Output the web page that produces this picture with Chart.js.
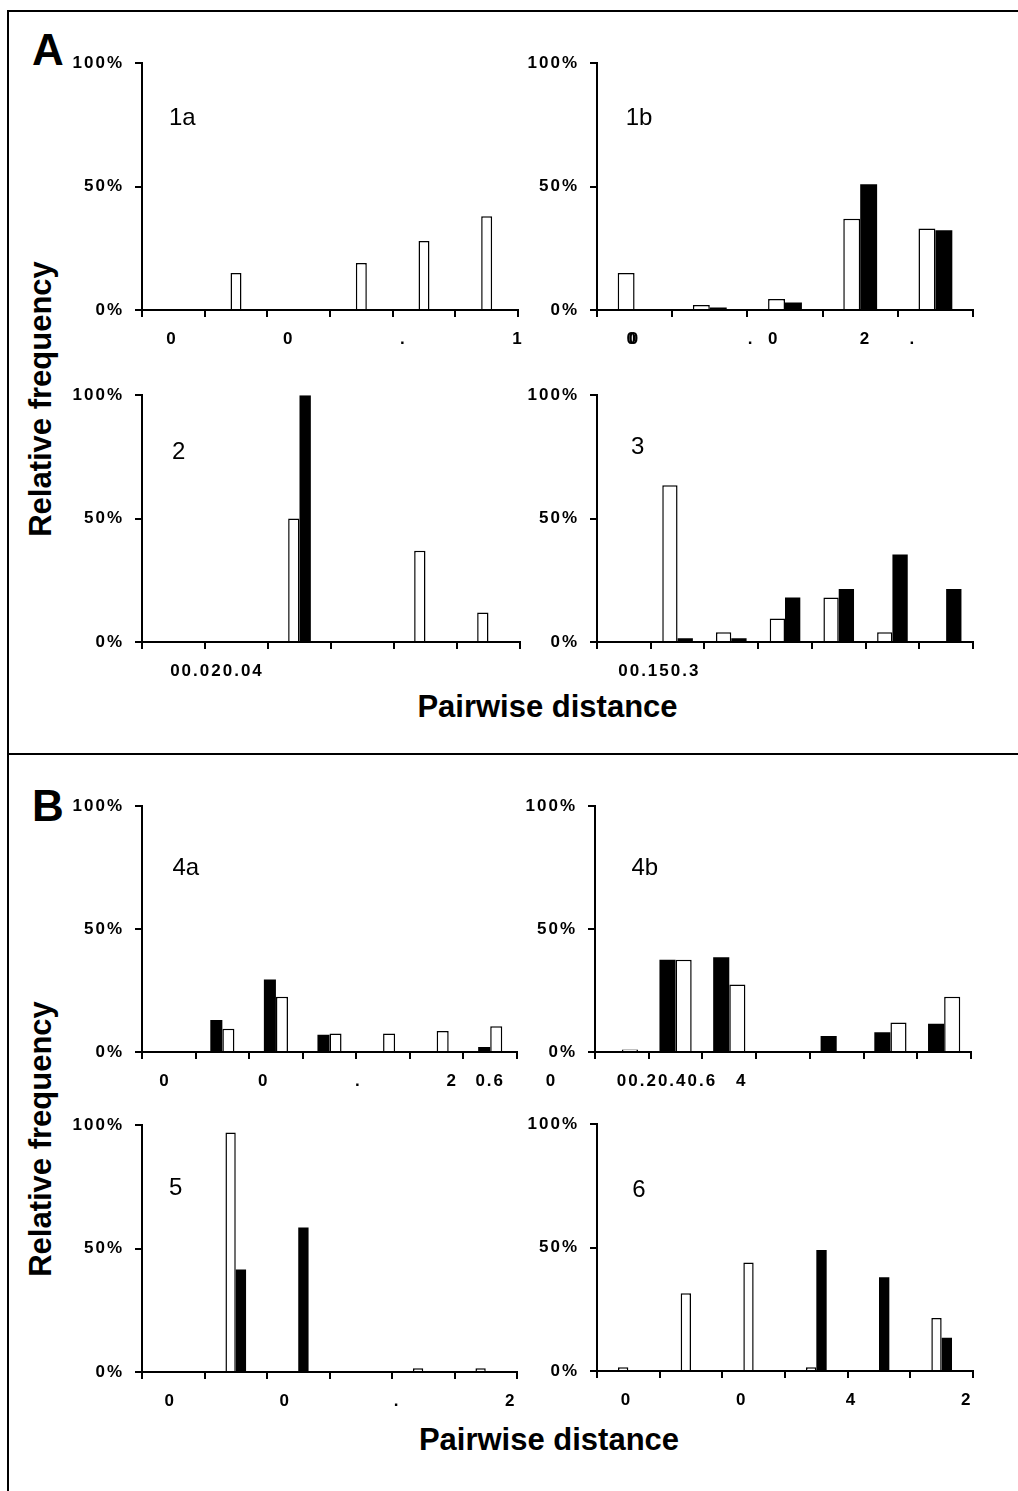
<!DOCTYPE html>
<html>
<head>
<meta charset="utf-8">
<script src="https://cdn.jsdelivr.net/npm/chart.js@4/dist/chart.umd.min.js"></script>
<style>
  html, body { margin: 0; padding: 0; background: #fff; }
  body { width: 1018px; height: 1491px; position: relative; overflow: hidden;
         font-family: "Liberation Sans", Arial, Helvetica, sans-serif; color: #000; }
  .t { position: absolute; white-space: nowrap; line-height: 1; color: #000; }
  .ln { position: absolute; background: #000; }
  canvas { position: absolute; }
</style>
</head>
<body>
<script>
// ---------------- DATA ----------------
const bins5 = ['bin 1', 'bin 2', 'bin 3', 'bin 4', 'bin 5'];
const bins6 = ['bin 1', 'bin 2', 'bin 3', 'bin 4', 'bin 5', 'bin 6'];
const bins7 = ['bin 1', 'bin 2', 'bin 3', 'bin 4', 'bin 5', 'bin 6', 'bin 7'];

// relative frequencies (%) — open bars and filled bars
const white1a = [0, 15, 0, 19, 28, 38];
const white1b = [15, 2, 4.5, 37, 33];
const black1b = [0, 1, 3, 51, 32.3];
const white2  = [0, 0, 50, 0, 37, 12];
const black2  = [0, 0, 100, 0, 0, 0];
const white3  = [0, 63.5, 4, 9.5, 18, 4, 0];
const black3  = [0, 1.5, 1.5, 18, 21.5, 35.5, 21.5];
const black4a = [0, 13, 29.5, 7, 0, 0, 2];
const white4a = [0, 9.5, 22.5, 7.5, 7.5, 8.5, 10.5];
const black4b = [0, 37.5, 38.5, 0, 6.5, 8, 11.5];
const white4b = [1, 37.5, 27.5, 0, 0, 12, 22.5];
const white5  = [0, 97, 0, 0, 1.5, 1.5];
const black5  = [0, 41.5, 58.5, 0, 0, 0];
const white6  = [1.5, 31.5, 44, 1.5, 0, 21.5];
const black6  = [0, 0, 0, 49, 38, 13.5];

// y axis ticks
const yTickValues = [0, 50, 100];

// x tick labels as printed, and their values on the bin scale
const xLab1a = ['0', '0', '.', '1'];
const xVal1a = [0.48, 2.34, 4.17, 6.0];
const xLab1b = ['0', '0', '.', '0', '2', '.'];
const xVal1b = [0.47, 0.50, 2.05, 2.35, 3.57, 4.20];
const xLab2  = ['00.020.04'];
const xVal2  = [1.19];
const xLab3  = ['00.150.3'];
const xVal3  = [1.16];
const xLab4a = ['0', '0', '.', '2', '0.6'];
const xVal4a = [0.43, 2.27, 4.04, 5.79, 6.50];
const xLab4b = ['0', '00.20.40.6', '4'];
const xVal4b = [-0.81, 1.34, 2.73];
const xLab5  = ['0', '0', '.', '2'];
const xVal5  = [0.45, 2.29, 4.08, 5.90];
const xLab6  = ['0', '0', '4', '2'];
const xVal6  = [0.47, 2.31, 4.06, 5.90];

// ---------------- LAYOUT / STYLE ----------------
const FONT = '"Liberation Sans", Arial, Helvetica, sans-serif';
const L = { yW: 80, padT: 20, padR: 40, xH: 8, x2H: 40 };
const OPEN = { backgroundColor: '#ffffff', borderColor: '#000000', borderWidth: 1.5 };
const FILLED = { backgroundColor: '#000000', borderColor: '#000000', borderWidth: 0 };

const panels = [
  { name: '1a', area: [142, 62, 376, 248], labels: bins6, sets: [[white1a, OPEN]], frac: 0.175, xl: xLab1a, xv: xVal1a, tag: [169, 105] },
  { name: '1b', area: [597, 62, 376, 248], labels: bins5, sets: [[white1b, OPEN], [black1b, FILLED]], frac: 0.45, xl: xLab1b, xv: xVal1b, tag: [625.7, 105] },
  { name: '2',  area: [142, 394, 378, 248], labels: bins6, sets: [[white2, OPEN], [black2, FILLED]], frac: 0.36, xl: xLab2, xv: xVal2, tag: [172, 438.6] },
  { name: '3',  area: [597, 394, 376, 248], labels: bins7, sets: [[white3, OPEN], [black3, FILLED]], frac: 0.57, xl: xLab3, xv: xVal3, tag: [631, 434.2] },
  { name: '4a', area: [142, 805, 375, 247], labels: bins7, sets: [[black4a, FILLED], [white4a, OPEN]], frac: 0.45, xl: xLab4a, xv: xVal4a, tag: [172.4, 855.2] },
  { name: '4b', area: [595, 805, 376, 247], labels: bins7, sets: [[black4b, FILLED], [white4b, OPEN]], frac: 0.6, xl: xLab4b, xv: xVal4b, tag: [631.4, 855.2] },
  { name: '5',  area: [142, 1124, 375, 248], labels: bins6, sets: [[white5, OPEN], [black5, FILLED]], frac: 0.33, xl: xLab5, xv: xVal5, tag: [169, 1175.2] },
  { name: '6',  area: [597, 1123, 376, 248], labels: bins6, sets: [[white6, OPEN], [black6, FILLED]], frac: 0.33, xl: xLab6, xv: xVal6, tag: [632.3, 1176.9] }
];

// letter spacing for the bold axis numbers
const spacingPlugin = {
  id: 'spacing',
  beforeDraw(chart) { chart.ctx.letterSpacing = '2px'; },
  afterDraw(chart) { chart.ctx.letterSpacing = '0px'; }
};

function addText(txt, left, top, size, weight, extra) {
  const d = document.createElement('div');
  d.className = 't';
  d.textContent = txt;
  d.style.left = left + 'px';
  d.style.top = top + 'px';
  d.style.fontSize = size + 'px';
  d.style.fontWeight = weight;
  if (extra) Object.assign(d.style, extra);
  document.body.appendChild(d);
  return d;
}
function addLine(x, y, w, h) {
  const d = document.createElement('div');
  d.className = 'ln';
  d.style.left = x + 'px'; d.style.top = y + 'px';
  d.style.width = w + 'px'; d.style.height = h + 'px';
  document.body.appendChild(d);
}

// frame
addLine(7, 10, 1011, 2);     // top
addLine(7, 10, 2, 1481);     // left
addLine(7, 753, 1011, 2);    // divider between A and B

// panel letters
addText('A', 32, 27.6, 44, 'bold');
addText('B', 32, 784.3, 44, 'bold');

// axis titles
[398.5, 1138.5].forEach(cy => {
  addText('Relative frequency', 40.3, cy, 31, 'bold', { transform: 'translate(-50%,-50%) rotate(-90deg)' });
});
addText('Pairwise distance', 547.5, 691, 31, 'bold', { transform: 'translateX(-50%)' });
addText('Pairwise distance', 549, 1424.3, 31, 'bold', { transform: 'translateX(-50%)' });

const tickFont = { family: FONT, size: 17, weight: 'bold' };

panels.forEach(p => {
  const [ax, ay, aw, ah] = p.area;
  const W = L.yW + aw + L.padR;
  const H = L.padT + ah + L.xH + L.x2H;
  const cv = document.createElement('canvas');
  cv.width = W; cv.height = H;
  cv.style.left = (ax - L.yW) + 'px';
  cv.style.top = (ay - L.padT) + 'px';
  cv.style.width = W + 'px'; cv.style.height = H + 'px';
  document.body.appendChild(cv);

  const datasets = p.sets.map(([arr, st], i) => Object.assign({
    label: 'series ' + (i + 1),
    data: arr,
    xAxisID: 'x', yAxisID: 'y',
    categoryPercentage: p.frac,
    barPercentage: 1,
    borderSkipped: 'start'
  }, st));

  new Chart(cv, {
    type: 'bar',
    data: { labels: p.labels, datasets },
    plugins: [spacingPlugin],
    options: {
      responsive: false,
      animation: false,
      devicePixelRatio: 1,
      layout: { padding: { left: 0, top: L.padT, right: L.padR, bottom: 0 } },
      plugins: { legend: { display: false }, tooltip: { enabled: false }, title: { display: false } },
      scales: {
        x: {
          type: 'category',
          position: 'bottom',
          offset: true,
          grid: { display: true, offset: true, drawOnChartArea: false, drawTicks: true, tickLength: 7, color: '#000', lineWidth: 2 },
          border: { display: true, color: '#000', width: 2 },
          ticks: { display: false },
          afterFit: s => { s.height = L.xH; }
        },
        x2: {
          type: 'linear',
          position: 'bottom',
          axis: 'x',
          offset: false,
          min: 0,
          max: p.labels.length,
          grid: { display: false, offset: false, drawTicks: false },
          border: { display: false },
          afterBuildTicks: s => { s.ticks = p.xv.map(v => ({ value: v })); },
          ticks: {
            autoSkip: false, maxRotation: 0, minRotation: 0, padding: 11,
            color: '#000', font: tickFont,
            callback: (v, i) => p.xl[i]
          },
          afterFit: s => { s.height = L.x2H; }
        },
        y: {
          type: 'linear',
          position: 'left',
          min: 0, max: 100,
          grid: { display: true, drawOnChartArea: false, drawTicks: true, tickLength: 7, color: '#000', lineWidth: 2 },
          border: { display: true, color: '#000', width: 2 },
          afterBuildTicks: s => { s.ticks = yTickValues.map(v => ({ value: v })); },
          ticks: { padding: 11, color: '#000', font: tickFont, callback: v => v + '%' },
          afterFit: s => { s.width = L.yW; }
        }
      }
    }
  });

  // sub-panel tag (1a, 1b, 2, ...)
  addText(p.name, p.tag[0], p.tag[1], 24, 'normal');
});
</script>
</body>
</html>
